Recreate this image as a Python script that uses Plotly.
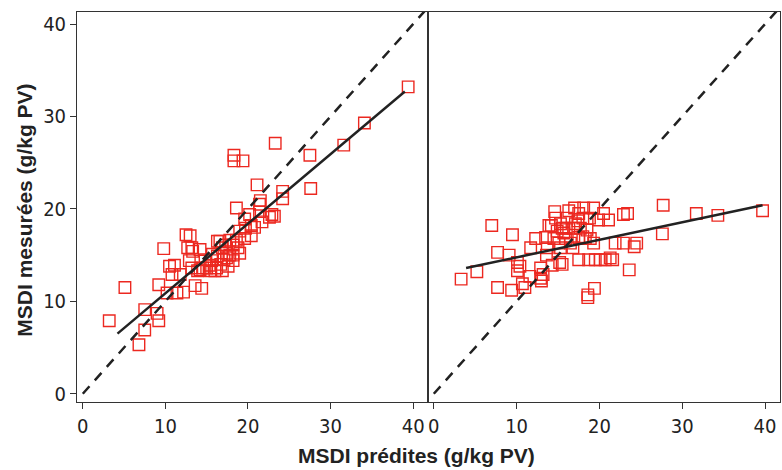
import plotly.graph_objects as go

# Left panel: predicted vs measured
left_pred = [39.4, 34.1, 31.6, 27.5, 27.6, 23.3, 18.3, 18.3, 19.4, 21.1, 24.2, 24.2, 21.5, 21.4,
             18.6, 22.9, 23.2, 22.6, 19.6, 20.2, 20.8, 21.4, 20.4, 19.6, 17.8, 16.6, 18.6, 16.9,
             17.4, 19.0, 18.2, 17.4, 18.2, 15.4, 16.2, 14.5, 16.9, 15.4, 13.2, 14.2, 13.0, 12.5,
             9.8, 12.7, 13.3, 16.3, 11.1, 10.5, 12.9, 10.8, 11.8, 14.2, 5.1, 9.2, 10.2, 11.4,
             12.2, 13.6, 14.4, 7.5, 9.0, 9.2, 3.2, 7.5, 6.8, 20.4, 13.2, 13.9, 15.6, 15.0,
             16.0, 17.8, 18.2, 18.8, 17.1, 16.3, 15.7, 16.7, 17.6, 14.8, 17.3, 19.0, 19.7, 21.7]
left_meas = [33.2, 29.3, 26.9, 25.8, 22.2, 27.1, 25.8, 25.2, 25.2, 22.6, 21.9, 21.1, 20.9, 20.5,
             20.1, 19.4, 19.2, 19.1, 18.9, 19.4, 18.0, 19.7, 17.1, 16.8, 16.6, 16.5, 16.6, 15.8,
             15.2, 15.2, 15.0, 14.7, 14.4, 13.9, 13.6, 13.6, 13.3, 13.3, 15.8, 15.6, 17.1, 17.2,
             15.7, 15.8, 15.4, 16.5, 13.9, 13.8, 14.4, 12.9, 12.9, 13.4, 11.5, 11.8, 10.9, 10.9,
             11.0, 11.7, 11.4, 9.1, 8.7, 7.9, 7.9, 6.9, 5.3, 18.2, 13.6, 13.3, 14.4, 13.6,
             13.3, 15.0, 16.1, 15.8, 14.5, 14.9, 15.1, 14.0, 13.8, 14.5, 16.1, 17.6, 17.9, 18.6]

# Right panel: predicted vs measured
right_pred = [3.3, 5.2, 7.0, 9.5, 7.7, 9.1, 7.7, 9.4, 10.1, 10.4, 10.1, 10.7, 11.0, 11.6,
              11.7, 12.3, 12.9, 13.0, 13.2, 13.5, 13.7, 13.9, 14.2, 14.6, 14.3, 15.2, 14.5, 14.9,
              15.5, 15.7, 16.1, 16.3, 17.0, 17.4, 16.9, 16.8, 17.5, 18.0, 18.1, 18.3, 19.3, 18.8,
              18.5, 19.3, 19.9, 20.5, 21.1, 17.5, 18.7, 19.5, 20.1, 20.7, 21.6, 21.3, 18.6, 18.6,
              19.4, 21.9, 22.9, 24.2, 24.5, 22.9, 23.4, 23.6, 27.7, 27.6, 31.7, 34.3, 39.7, 15.5,
              12.9, 13.6, 18.0, 15.3, 15.9, 16.5, 15.1, 17.1, 17.7, 16.0, 14.7, 18.9, 17.5, 15.3]
right_meas = [12.4, 13.2, 18.2, 17.2, 15.3, 15.0, 11.5, 11.2, 14.2, 13.8, 13.3, 11.9, 11.5, 12.7,
              15.8, 16.8, 12.5, 12.2, 12.9, 16.9, 15.8, 18.2, 18.2, 19.7, 13.9, 14.2, 16.8, 17.6,
              17.9, 17.4, 19.0, 19.8, 20.1, 18.7, 17.9, 15.8, 16.9, 19.0, 20.1, 16.8, 20.1, 19.0,
              17.7, 16.3, 18.8, 19.5, 18.8, 14.5, 14.5, 14.5, 14.5, 14.5, 14.5, 14.7, 10.7, 10.4,
              11.4, 16.3, 16.3, 15.9, 16.3, 19.4, 19.5, 13.4, 20.4, 17.3, 19.5, 19.3, 19.8, 14.0,
              13.6, 15.0, 17.0, 18.4, 16.8, 16.3, 16.3, 18.4, 17.9, 17.9, 19.0, 16.8, 19.5, 15.8]

# Fitted regression lines (end points) and identity line
left_fit_x = [4.2, 39.0]
left_fit_y = [6.5, 32.7]
right_fit_x = [3.9, 39.7]
right_fit_y = [13.6, 20.4]
identity = [0, 42]

tick_vals = [0, 10, 20, 30, 40]
x_title = "MSDI prédites (g/kg PV)"
y_title = "MSDI mesurées (g/kg PV)"

RED = "rgb(236,40,32)"
INK = "#222222"
marker = dict(symbol="square-open", size=11.5, color=RED, line=dict(width=1.4, color=RED))

fig = go.Figure()
for xa, ya, px, py, fx, fy in [("x", "y", left_pred, left_meas, left_fit_x, left_fit_y),
                               ("x2", "y2", right_pred, right_meas, right_fit_x, right_fit_y)]:
    fig.add_trace(go.Scatter(x=px, y=py, mode="markers", marker=marker, xaxis=xa, yaxis=ya,
                             showlegend=False, cliponaxis=True))
    fig.add_trace(go.Scatter(x=identity, y=identity, mode="lines", xaxis=xa, yaxis=ya,
                             line=dict(color=INK, width=2.5, dash="10px,8px"), showlegend=False))
    fig.add_trace(go.Scatter(x=fx, y=fy, mode="lines", xaxis=xa, yaxis=ya,
                             line=dict(color=INK, width=2.5), showlegend=False))

tick_font = dict(family="DejaVu Sans Condensed, Liberation Sans Narrow, sans-serif",
                 size=20, color="#222")
title_font = dict(family="Liberation Sans, Arial, sans-serif", size=21, color="#222")
xr = [-0.7, 41.8]
yr = [-0.86, 41.29]
common_x = dict(range=xr, tickvals=tick_vals, ticks="outside", ticklen=6, tickcolor="#333",
                showline=True, mirror=True, linecolor="#333", linewidth=1, showgrid=False,
                zeroline=False, tickfont=tick_font)
fig.update_layout(
    width=782, height=470,
    margin=dict(l=0, r=0, t=0, b=0),
    paper_bgcolor="white", plot_bgcolor="white",
    xaxis=dict(domain=[0.0985, 0.5473], anchor="y", **common_x),
    xaxis2=dict(domain=[0.5473, 0.9974], anchor="y2", **common_x),
    yaxis=dict(domain=[0.138, 0.974], anchor="x", range=yr, tickvals=tick_vals, ticks="outside",
               ticklen=6, tickcolor="#333", showline=True, mirror=True, linecolor="#333",
               linewidth=1, showgrid=False, zeroline=False, tickfont=tick_font),
    yaxis2=dict(domain=[0.138, 0.974], anchor="x2", range=yr, showticklabels=False, ticks="",
                showline=True, mirror=True, linecolor="#333", linewidth=1, showgrid=False,
                zeroline=False),
    annotations=[
        dict(text="<b>" + x_title + "</b>", xref="paper", yref="paper", x=0.533, y=-0.006,
             xanchor="center", yanchor="bottom", showarrow=False, font=title_font),
        dict(text="<b>" + y_title + "</b>", xref="paper", yref="paper", x=0.032, y=0.548,
             xanchor="center", yanchor="middle", textangle=-90, showarrow=False,
             font=title_font),
    ],
)

fig.write_html("out.html", config={"displayModeBar": False},
               post_script="document.body.style.margin='0px';document.body.style.overflow='hidden';")
